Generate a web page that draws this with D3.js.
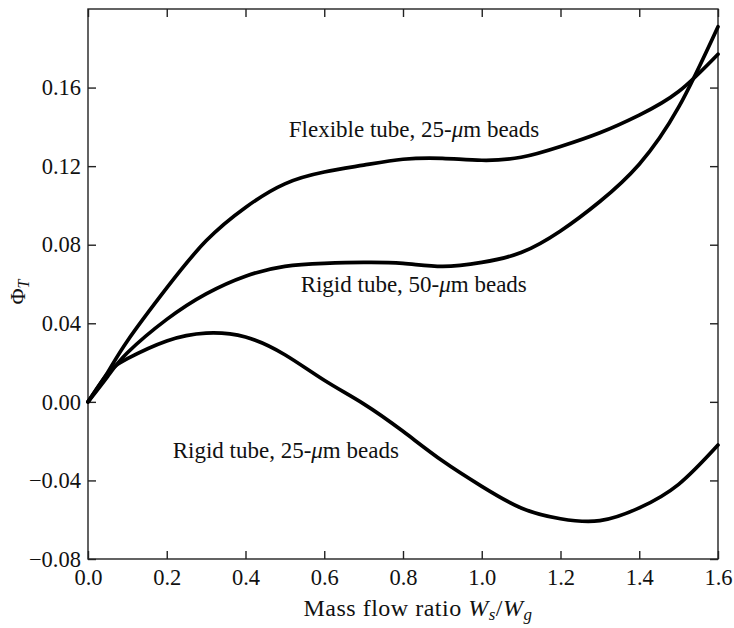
<!DOCTYPE html>
<html>
<head>
<meta charset="utf-8">
<script src="https://cdn.jsdelivr.net/npm/d3@7"></script>
<style>
  html, body { margin: 0; padding: 0; background: #fff; }
</style>
</head>
<body>
<svg id="chart" width="734" height="628"></svg>
<script>
// Mass flow ratio grid shared by all three curves
const massFlowRatio = [0, 0.05, 0.1, 0.2, 0.3, 0.4, 0.5, 0.6, 0.7, 0.8, 0.9, 1.0, 1.1, 1.2, 1.3, 1.4, 1.5, 1.6];

// Phi_T for each tube / bead configuration
const flexible25 = [0, 0.015, 0.031, 0.058, 0.082, 0.099, 0.111, 0.117, 0.1205, 0.1235, 0.124, 0.123, 0.1245, 0.130, 0.137, 0.146, 0.158, 0.177];
const rigid50    = [0, 0.013, 0.025, 0.042, 0.055, 0.064, 0.069, 0.0705, 0.071, 0.0705, 0.069, 0.071, 0.076, 0.087, 0.102, 0.121, 0.150, 0.191];
const rigid25    = [0, 0.0145, 0.022, 0.031, 0.035, 0.033, 0.024, 0.011, -0.001, -0.015, -0.030, -0.043, -0.054, -0.0595, -0.0605, -0.054, -0.042, -0.022];

const xTicks = [0, 0.2, 0.4, 0.6, 0.8, 1.0, 1.2, 1.4, 1.6];
const yTicks = [-0.08, -0.04, 0.00, 0.04, 0.08, 0.12, 0.16];

const curveLabels = [
  { text: "Flexible tube, 25-", tail: "m beads", x: 0.51, y: 0.135 },
  { text: "Rigid tube, 50-", tail: "m beads", x: 0.54, y: 0.056 },
  { text: "Rigid tube, 25-", tail: "m beads", x: 0.215, y: -0.0285 }
];

const serif = "'Liberation Serif', 'Times New Roman', 'DejaVu Serif', serif";

const svg = d3.select("#chart");
const plotLeft = 88, plotRight = 718, plotTop = 9, plotBottom = 559;

const x = d3.scaleLinear().domain([0, 1.6]).range([plotLeft, plotRight]);
const y = d3.scaleLinear().domain([-0.08, 0.2]).range([plotBottom, plotTop]);

// Frame
svg.append("rect")
  .attr("x", plotLeft).attr("y", plotTop)
  .attr("width", plotRight - plotLeft).attr("height", plotBottom - plotTop)
  .attr("fill", "none").attr("stroke", "#222").attr("stroke-width", 1.4);

const tickLen = 8;
const fmtY = v => (v < 0 ? "\u2212" : "") + Math.abs(v).toFixed(2);

function styleAxis(g) {
  g.attr("font-family", serif);
  g.select(".domain").remove();
  g.selectAll("line").attr("stroke", "#222").attr("stroke-width", 1.4);
  g.selectAll("text").attr("font-size", 22.5).attr("fill", "#111")
    .style("font-family", serif);
}

// Bottom axis: inward ticks, labels below
const gx = svg.append("g").attr("transform", `translate(0,${plotBottom})`)
  .call(d3.axisBottom(x).tickValues(xTicks).tickSize(-tickLen).tickPadding(10)
    .tickFormat(d => d.toFixed(1)));
styleAxis(gx);

// Top mirrored ticks
const gxTop = svg.append("g").attr("transform", `translate(0,${plotTop})`)
  .call(d3.axisTop(x).tickValues(xTicks).tickSize(-tickLen).tickFormat(""));
styleAxis(gxTop);

// Left axis
const gy = svg.append("g").attr("transform", `translate(${plotLeft},0)`)
  .call(d3.axisLeft(y).tickValues(yTicks).tickSize(-tickLen).tickPadding(7)
    .tickFormat(fmtY));
styleAxis(gy);

// Right mirrored ticks
const gyRight = svg.append("g").attr("transform", `translate(${plotRight},0)`)
  .call(d3.axisRight(y).tickValues(yTicks).tickSize(-tickLen).tickFormat(""));
styleAxis(gyRight);

// Curves: smooth spline through the sampled values
const line = d3.line()
  .x(d => x(d[0]))
  .y(d => y(d[1]))
  .curve(d3.curveNatural);

[flexible25, rigid50, rigid25].forEach(series => {
  svg.append("path")
    .datum(massFlowRatio.map((m, i) => [m, series[i]]))
    .attr("d", line)
    .attr("fill", "none")
    .attr("stroke", "#000")
    .attr("stroke-width", 3.7)
    .attr("stroke-linejoin", "round")
    .attr("stroke-linecap", "round");
});

// Curve annotations
curveLabels.forEach(l => {
  const t = svg.append("text")
    .attr("x", x(l.x)).attr("y", y(l.y))
    .attr("font-size", 23).attr("fill", "#111")
    .style("font-family", serif);
  t.append("tspan").text(l.text);
  t.append("tspan").attr("font-style", "italic").text("\u03bc");
  t.append("tspan").text(l.tail);
});

// X axis title
const xt = svg.append("text")
  .attr("x", 418).attr("y", 616)
  .attr("text-anchor", "middle").attr("font-size", 24).attr("fill", "#111")
  .attr("letter-spacing", 0.5)
  .style("font-family", serif);
xt.append("tspan").text("Mass flow ratio ");
xt.append("tspan").attr("font-style", "italic").text("W");
xt.append("tspan").attr("font-style", "italic").attr("font-size", 17).attr("dy", 4).text("s");
xt.append("tspan").attr("dy", -4).text("/");
xt.append("tspan").attr("font-style", "italic").text("W");
xt.append("tspan").attr("font-style", "italic").attr("font-size", 17).attr("dy", 4).text("g");

// Y axis title
const yt = svg.append("text")
  .attr("transform", "translate(25,292) rotate(-90)")
  .attr("text-anchor", "middle").attr("font-size", 22).attr("fill", "#111")
  .style("font-family", serif);
yt.append("tspan").text("\u03a6");
yt.append("tspan").attr("font-style", "italic").attr("font-size", 16).attr("dy", 4).text("T");
</script>
</body>
</html>
